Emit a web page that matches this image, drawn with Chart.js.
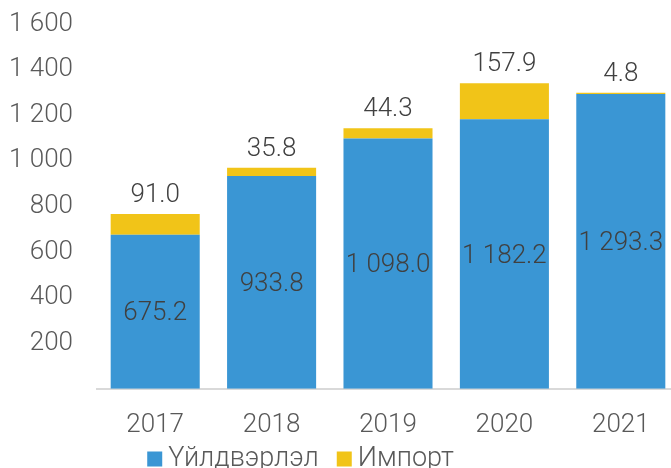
<!DOCTYPE html>
<html><head><meta charset="utf-8">
<script src="https://cdn.jsdelivr.net/npm/chart.js@4.4.1/dist/chart.umd.min.js"></script>
<style>html,body{margin:0;padding:0;overflow:hidden;background:#fff}#wrap{width:679px;height:468px;position:relative}</style>
</head><body><div id="wrap"><canvas id="c" width="679" height="468"></canvas></div>
<script>
const categories = ['2017', '2018', '2019', '2020', '2021'];
const production = [675.2, 933.8, 1098.0, 1182.2, 1293.3];
const imports = [91.0, 35.8, 44.3, 157.9, 4.8];
const yTicks = [200, 400, 600, 800, 1000, 1200, 1400, 1600];
const seriesNames = ['Үйлдвэрлэл', 'Импорт'];
const seriesColors = ['#3A96D4', '#F1C418'];

function fmt(v, dec) {
  const s = v.toFixed(dec);
  const parts = s.split('.');
  parts[0] = parts[0].replace(/\B(?=(\d{3})+(?!\d))/g, ' ');
  return parts.join('.');
}

const FONT = '"Roboto", "Liberation Sans", sans-serif';

const valueLabels = {
  id: 'valueLabels',
  afterDatasetsDraw(chart) {
    const ctx = chart.ctx;
    ctx.save();
    ctx.font = '300 26px ' + FONT;
    ctx.fillStyle = '#404040';
    ctx.textAlign = 'center';
    ctx.textBaseline = 'middle';
    chart.getDatasetMeta(0).data.forEach((el, i) => {
      ctx.fillText(fmt(production[i], 1), el.x, (el.y + el.base) / 2 + 2);
    });
    chart.getDatasetMeta(1).data.forEach((el, i) => {
      ctx.fillText(fmt(imports[i], 1), el.x, el.y - 18.5);
    });
    ctx.restore();
  }
};

const customLegend = {
  id: 'customLegend',
  afterDraw(chart) {
    const ctx = chart.ctx;
    ctx.save();
    ctx.font = '300 27px ' + FONT;
    const box = 15, gapText = 6, gapItem = 18;
    const widths = seriesNames.map(n => ctx.measureText(n).width);
    let total = 0;
    widths.forEach((w, i) => { total += box + gapText + w + (i < widths.length - 1 ? gapItem : 0); });
    let x = 300.5 - total / 2;
    const yc = 459;
    ctx.textBaseline = 'middle';
    ctx.textAlign = 'left';
    seriesNames.forEach((n, i) => {
      ctx.fillStyle = seriesColors[i];
      ctx.fillRect(x, yc - box / 2, box, box);
      x += box + gapText;
      ctx.fillStyle = '#595959';
      ctx.fillText(n, x, yc);
      x += widths[i] + gapItem;
    });
    ctx.restore();
  }
};

new Chart(document.getElementById('c'), {
  type: 'bar',
  data: {
    labels: categories,
    datasets: [
      { label: seriesNames[0], data: production, backgroundColor: seriesColors[0], barPercentage: 0.765, categoryPercentage: 1 },
      { label: seriesNames[1], data: imports, backgroundColor: seriesColors[1], barPercentage: 0.765, categoryPercentage: 1 }
    ]
  },
  options: {
    responsive: false,
    devicePixelRatio: 1,
    animation: false,
    layout: { padding: { top: 24, bottom: 14, left: 0, right: 0 } },
    plugins: { legend: { display: false }, tooltip: { enabled: false } },
    scales: {
      x: {
        stacked: true,
        grid: { display: false },
        border: { display: true, color: '#D9D9D9', width: 2 },
        ticks: { color: '#595959', font: { family: FONT, size: 26, weight: '300' }, padding: 13 }
      },
      y: {
        stacked: true,
        min: 0, max: 1600,
        grid: { display: false },
        border: { display: false },
        afterFit(scale) { scale.width = 97; scale.paddingTop = 0; scale.paddingBottom = 0; },
        afterBuildTicks(scale) { scale.ticks = yTicks.map(v => ({ value: v })); },
        ticks: {
          color: '#595959', padding: 16,
          font: { family: FONT, size: 26, weight: '300' },
          callback: v => fmt(v, 0)
        }
      }
    }
  },
  plugins: [valueLabels, customLegend]
});
</script>
</body></html>
